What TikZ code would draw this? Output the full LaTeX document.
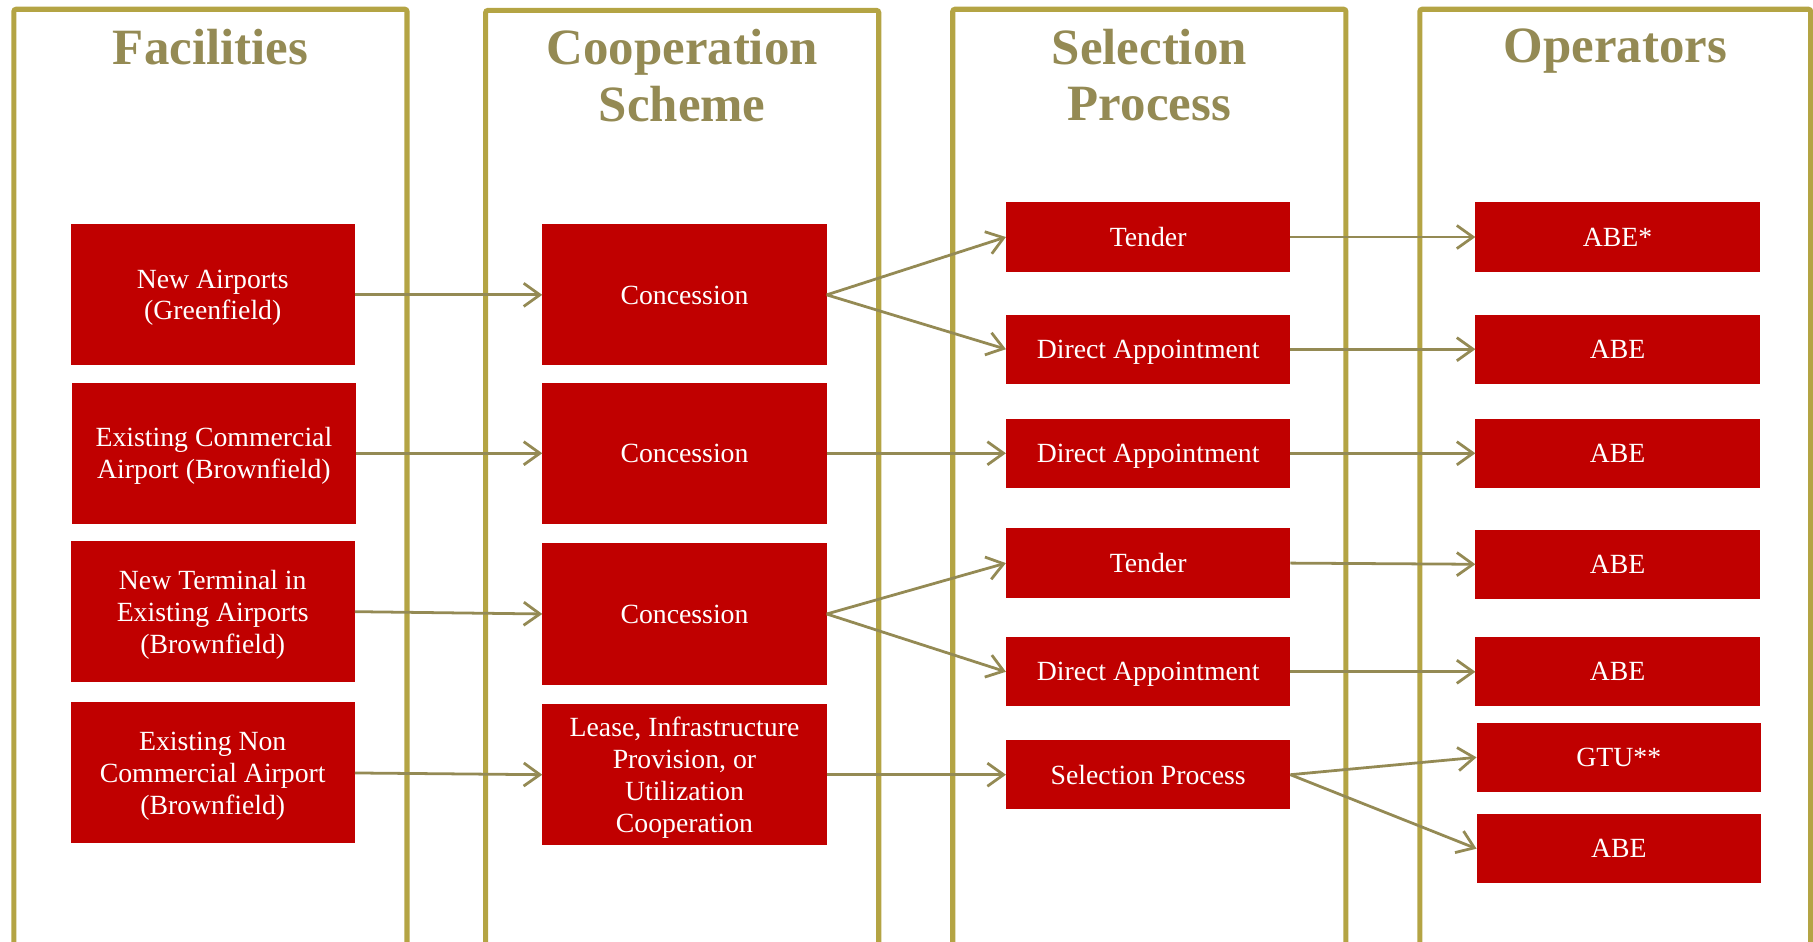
\documentclass[tikz,border=0pt]{standalone}
\usepackage{fontspec}
\setmainfont{Liberation Serif}
\usetikzlibrary{arrows.meta}
\definecolor{boxred}{RGB}{192,0,0}
\definecolor{framegold}{RGB}{180,164,68}
\definecolor{olivetext}{RGB}{148,138,84}
\begin{document}
\begin{tikzpicture}[x=0.5pt,y=-0.5pt,
  frame/.style={draw=framegold,line width=2.2pt,rounded corners=1pt},
  title/.style={text=olivetext,font=\fontsize{22}{24.5}\selectfont\bfseries,anchor=base,align=center},
  bigbox/.style={fill=boxred,text=white,minimum width=123pt,minimum height=61pt,inner sep=0pt,outer sep=0pt,align=center,text depth=0pt,font=\fontsize{12}{13.8}\selectfont},
  smallbox/.style={bigbox,minimum height=30pt},
  conn/.style={draw=olivetext,line width=1.2pt,-{Straight Barb[length=7pt,width=10pt,line width=1.2pt]}}
]
\useasboundingbox (0,0) rectangle (1568,814);
\begin{scope}
\clip (0,0) rectangle (1568,814);
\draw[frame] (12,840) -- (12,8) -- (352,8) -- (352,840);
\draw[frame] (420,840) -- (420,9) -- (760,9) -- (760,840);
\draw[frame] (824,840) -- (824,8) -- (1164,8) -- (1164,840);
\draw[frame] (1228,840) -- (1228,8) -- (1566,8) -- (1566,840);
\end{scope}

\node[title] (tf) at (182,56) {Facilities};
\node[title] (tc1) at (590,56) {Cooperation};
\node[title] (tc2) at (590,105) {Scheme};
\node[title] (ts1) at (994,56) {Selection};
\node[title] (ts2) at (994,104.5) {Process};
\node[title] (to) at (1397,54) {Operators};

% column 1
\node[bigbox] (f1) at (184,255) {New Airports\\(Greenfield)};
\node[bigbox] (f2) at (185,392) {Existing Commercial\\Airport (Brownfield)};
\node[bigbox] (f3) at (184,529) {New Terminal in\\Existing Airports\\(Brownfield)};
\node[bigbox] (f4) at (184,668.5) {Existing Non\\Commercial Airport\\(Brownfield)};
% column 2
\node[bigbox] (c1) at (592,255) {Concession};
\node[bigbox] (c2) at (592,392) {Concession};
\node[bigbox] (c3) at (592,531) {Concession};
\node[bigbox] (c4) at (592,670) {Lease, Infrastructure\\Provision, or\\Utilization\\Cooperation};
% column 3
\node[smallbox] (s1) at (993,205) {Tender};
\node[smallbox] (s2) at (993,302) {Direct Appointment};
\node[smallbox] (s3) at (993,392) {Direct Appointment};
\node[smallbox] (s4) at (993,487) {Tender};
\node[smallbox] (s5) at (993,581) {Direct Appointment};
\node[smallbox] (s6) at (993,670) {Selection Process};
% column 4
\node[smallbox] (o1) at (1399,205) {ABE*};
\node[smallbox] (o2) at (1399,302) {ABE};
\node[smallbox] (o3) at (1399,392) {ABE};
\node[smallbox] (o4) at (1399,488) {ABE};
\node[smallbox] (o5) at (1399,581) {ABE};
\node[smallbox] (o6) at (1400,655) {GTU**};
\node[smallbox] (o7) at (1400,734) {ABE};

% connectors
\draw[conn] (f1.east) -- (c1.west);
\draw[conn] (f2.east) -- (c2.west);
\draw[conn] (f3.east) -- (c3.west);
\draw[conn] (f4.east) -- (c4.west);

\draw[conn] (c1.east) -- (s1.west);
\draw[conn] (c1.east) -- (s2.west);
\draw[conn] (c2.east) -- (s3.west);
\draw[conn] (c3.east) -- (s4.west);
\draw[conn] (c3.east) -- (s5.west);
\draw[conn] (c4.east) -- (s6.west);

\draw[conn] (s1.east) -- (o1.west);
\draw[conn] (s2.east) -- (o2.west);
\draw[conn] (s3.east) -- (o3.west);
\draw[conn] (s4.east) -- (o4.west);
\draw[conn] (s5.east) -- (o5.west);
\draw[conn] (s6.east) -- (o6.west);
\draw[conn] (s6.east) -- (o7.west);
\end{tikzpicture}
\end{document}
